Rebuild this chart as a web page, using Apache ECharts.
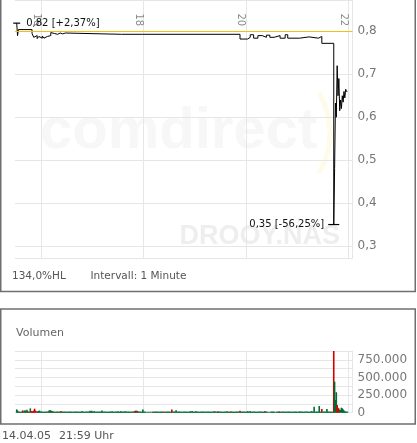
<!DOCTYPE html>
<html lang="de">
<head>
<meta charset="UTF-8">
<title>DROOY.NAS Intraday</title>
<style>
    html, body { margin: 0; width: 100%; height: 100%; overflow: hidden; background: #fff; }
    #main { width: 417px; height: 443px; }
</style>
</head>
<body>
<div id="main"></div>
<script src="https://cdn.jsdelivr.net/npm/echarts@6/dist/echarts.min.js"></script>
<script>
    // Achse: ein Eintrag pro Minute, 15:29 bis 22:05
    var firstMinute = 929, lastMinute = 1325;
    var hourLabels = ['16', '18', '20', '22'];

    // Kurs (nur Änderungspunkte, Stufenlinie)
    var priceTimes = ['15:31', '15:32', '15:33', '15:49', '15:51', '15:53', '15:55', '15:57', '15:59',
        '16:01', '16:03', '16:05', '16:07', '16:09', '16:11', '16:13', '16:15', '16:17', '16:19', '16:22',
        '16:25', '16:28', '17:34', '17:36', '17:59', '18:01', '18:05', '18:07', '19:53', '20:02', '20:05',
        '20:09', '20:14', '20:19', '20:24', '20:28', '20:33', '20:40', '20:46', '20:49', '21:03', '21:14',
        '21:25', '21:29', '21:43', '21:44', '21:45', '21:46', '21:47', '21:48', '21:49', '21:50', '21:51',
        '21:52', '21:53', '21:54', '21:55', '21:56', '21:57', '21:58', '21:59'];
    var priceValues = [0.819, 0.790, 0.804, 0.795, 0.786, 0.790, 0.783, 0.788, 0.784,
        0.789, 0.784, 0.788, 0.785, 0.790, 0.797, 0.795, 0.797, 0.793, 0.796, 0.794,
        0.796, 0.793, 0.797, 0.793, 0.796, 0.793, 0.797, 0.793, 0.782, 0.786, 0.792,
        0.784, 0.790, 0.786, 0.791, 0.786, 0.790, 0.784, 0.792, 0.784, 0.787, 0.784,
        0.788, 0.772, 0.350, 0.480, 0.633, 0.600, 0.720, 0.650, 0.690, 0.615, 0.640,
        0.620, 0.650, 0.635, 0.660, 0.645, 0.665, 0.660, 0.660];
    var prevClose = 0.80;
    var highText = '0,82 [+2,37%]';
    var lowText = '0,35 [-56,25%]';

    // Volumen in Tausend Stück, ein Wert pro Minute ab 15:29
    var volumes = [
        0, 0, 47, 30, 15, 15, 15, 15, 15, 33,
        15, 28, 33, 15, 42, 20, 15, 15, 61, 20,
        20, 20, 30, 57, 28, 15, 20, 15, 28, 28,
        15, 15, 15, 15, 15, 15, 15, 15, 15, 15,
        30, 35, 30, 25, 20, 15, 15, 15, 15, 15,
        15, 15, 15, 15, 25, 15, 15, 15, 15, 15,
        15, 15, 15, 15, 15, 15, 15, 15, 15, 15,
        15, 15, 15, 15, 15, 15, 15, 15, 15, 22,
        15, 15, 15, 15, 15, 15, 15, 15, 28, 15,
        28, 15, 15, 22, 15, 15, 15, 15, 15, 15,
        15, 15, 30, 15, 15, 15, 15, 15, 15, 15,
        15, 15, 15, 15, 22, 15, 15, 15, 15, 15,
        15, 22, 15, 15, 22, 15, 15, 15, 15, 22,
        15, 15, 15, 15, 15, 15, 15, 15, 15, 15,
        20, 28, 28, 28, 20, 15, 15, 15, 15, 15,
        45, 15, 15, 15, 0, 15, 0, 15, 0, 15,
        0, 15, 15, 15, 15, 15, 15, 15, 15, 15,
        15, 15, 15, 15, 15, 15, 15, 15, 15, 15,
        15, 15, 15, 15, 45, 15, 15, 15, 15, 33,
        15, 15, 15, 15, 15, 15, 15, 15, 15, 15,
        15, 15, 15, 15, 15, 15, 22, 15, 22, 15,
        15, 15, 22, 15, 15, 15, 15, 15, 15, 15,
        15, 15, 15, 15, 15, 15, 15, 15, 15, 15,
        15, 15, 15, 15, 22, 15, 15, 15, 20, 15,
        15, 15, 15, 15, 15, 15, 15, 15, 15, 20,
        15, 15, 15, 18, 15, 15, 15, 15, 15, 15,
        15, 15, 15, 15, 28, 15, 15, 15, 15, 15,
        15, 15, 15, 22, 15, 15, 22, 15, 15, 15,
        15, 15, 15, 15, 15, 15, 15, 15, 15, 15,
        15, 15, 15, 22, 15, 15, 15, 0, 15, 0,
        15, 15, 15, 15, 15, 15, 0, 15, 15, 15,
        18, 15, 15, 15, 15, 15, 15, 15, 15, 15,
        15, 15, 15, 15, 15, 15, 15, 15, 15, 15,
        15, 15, 15, 15, 18, 15, 15, 15, 15, 15,
        15, 15, 15, 15, 15, 15, 15, 15, 22, 15,
        15, 85, 15, 15, 15, 15, 15, 95, 15, 15,
        52, 15, 15, 15, 15, 15, 52, 15, 15, 15,
        15, 15, 15, 15, 880, 440, 180, 290, 109, 71,
        61, 38, 38, 71, 61, 47, 30, 20, 15, 15,
        15, 0, 0, 0, 0, 0, 0
    ];
    // Minuten (Index) mit fallendem Kurs -> rote Balken
    var redIndex = [9, 15, 19, 20, 21, 22, 23, 24, 26, 44, 54, 140, 142, 144, 163, 175, 184,
        238, 253, 264, 293, 310, 360, 374, 378, 379, 380];

    function pad(n) { return (n < 10 ? '0' : '') + n; }
    var minutes = [];
    for (var m = firstMinute; m <= lastMinute; m++) {
        minutes.push(pad(Math.floor(m / 60)) + ':' + pad(m % 60));
    }
    function isFullHour(index, value) {
        return value.slice(3) === '00' && hourLabels.indexOf(value.slice(0, 2)) >= 0;
    }

    var font = 'DejaVu Sans';
    var gridColor = '#e6e6e6';
    var green = '#006b33', red = '#d40000';

    var myChart = echarts.init(document.getElementById('main'), null, {renderer: 'canvas'});
    var option = {
        animation: false,
        grid: [
            {left: 15, right: 64.5, top: 0, height: 258.3},
            {left: 15, right: 64.5, top: 351, height: 61.7}
        ],
        xAxis: [{
            type: 'category',
            gridIndex: 0,
            data: minutes,
            boundaryGap: false,
            position: 'top',
            axisLine: {show: false},
            axisTick: {show: false},
            axisLabel: {
                inside: true,
                rotate: 90,
                interval: isFullHour,
                margin: 13.5,
                verticalAlign: 'top',
                color: '#8a8a8a',
                fontSize: 10,
                fontFamily: font,
                formatter: function (v) { return v.slice(0, 2); }
            },
            splitLine: {show: true, interval: isFullHour, lineStyle: {color: gridColor, width: 1}}
        }, {
            type: 'category',
            gridIndex: 1,
            data: minutes,
            boundaryGap: false,
            axisLine: {show: false},
            axisTick: {show: false},
            axisLabel: {show: false},
            splitLine: {show: true, interval: isFullHour, lineStyle: {color: gridColor, width: 1}}
        }],
        yAxis: [{
            type: 'value',
            gridIndex: 0,
            position: 'right',
            min: 0.2714,
            max: 0.8729,
            splitNumber: 5,
            axisLine: {show: true, lineStyle: {color: gridColor}},
            axisTick: {show: false},
            axisLabel: {
                margin: 5,
                color: '#777',
                fontSize: 12,
                fontFamily: font,
                showMinLabel: false,
                showMaxLabel: false,
                formatter: function (v) { return v.toFixed(1).replace('.', ','); }
            },
            splitLine: {lineStyle: {color: gridColor, width: 1}}
        }, {
            type: 'value',
            gridIndex: 1,
            position: 'right',
            min: 0,
            max: 875,
            interval: 125,
            axisLine: {show: true, lineStyle: {color: gridColor}},
            axisTick: {show: false},
            axisLabel: {
                margin: 5,
                color: '#777',
                fontSize: 12,
                fontFamily: font,
                formatter: function (v) {
                    if (v % 250 !== 0) return '';
                    return v === 0 ? '0' : v + '.000';
                }
            },
            splitLine: {lineStyle: {color: gridColor, width: 1}}
        }],
        series: [{
            name: 'Kurs',
            type: 'line',
            xAxisIndex: 0,
            yAxisIndex: 0,
            step: 'end',
            showSymbol: false,
            lineStyle: {color: '#000', width: 1},
            data: priceTimes.map(function (t, k) { return [t, priceValues[k]]; }),
            markLine: {
                silent: true,
                symbol: 'none',
                label: {show: false},
                lineStyle: {color: '#f3bd1c', type: 'solid', width: 1},
                data: [{yAxis: prevClose}]
            },
            markPoint: {
                silent: true,
                symbol: 'rect',
                itemStyle: {color: '#000'},
                data: [{
                    type: 'max',
                    symbolSize: [7, 1.2],
                    label: {show: true, position: 'right', distance: 6, color: '#111',
                        fontSize: 10, fontFamily: font, formatter: highText}
                }, {
                    type: 'min',
                    symbolSize: [11, 1.2],
                    label: {show: true, position: 'left', distance: 4, color: '#111',
                        fontSize: 10, fontFamily: font, formatter: lowText}
                }]
            }
        }, {
            name: 'Volumen',
            type: 'bar',
            xAxisIndex: 1,
            yAxisIndex: 1,
            barWidth: 1.6,
            data: volumes,
            itemStyle: {
                color: function (p) { return redIndex.indexOf(p.dataIndex) >= 0 ? red : green; }
            }
        }],
        graphic: [
            // Wasserzeichen
            {type: 'text', z: -10, silent: true,
                style: {x: 40, y: 132, text: 'comdirect', fill: '#f7f7f7',
                    font: 'bold 58px "Liberation Sans"', verticalAlign: 'middle'}},
            {type: 'arc', z: -10, silent: true,
                shape: {cx: 252, cy: 133, r: 78, startAngle: -0.54, endAngle: 0.54},
                style: {stroke: '#fffbea', lineWidth: 5, fill: null}},
            {type: 'text', z: -10, silent: true,
                style: {x: 340, y: 237, text: 'DROOY.NAS', fill: '#eeeeee', align: 'right',
                    font: 'bold 27px "Liberation Sans"', verticalAlign: 'middle'}},
            // Rahmen
            {type: 'rect', silent: true, shape: {x: 0.75, y: -2, width: 414.5, height: 293.5},
                style: {fill: null, stroke: '#6f6f6f', lineWidth: 1.5}},
            {type: 'rect', silent: true, shape: {x: 0.75, y: 309, width: 414.5, height: 115},
                style: {fill: null, stroke: '#6f6f6f', lineWidth: 1.5}},
            // Beschriftungen
            {type: 'text', style: {x: 12, y: 276, text: '134,0%HL', fill: '#555',
                font: '10.5px "DejaVu Sans"', verticalAlign: 'middle'}},
            {type: 'text', style: {x: 90.5, y: 276, text: 'Intervall: 1 Minute', fill: '#555',
                font: '10.5px "DejaVu Sans"', verticalAlign: 'middle'}},
            {type: 'text', style: {x: 16, y: 333, text: 'Volumen', fill: '#666',
                font: '11px "DejaVu Sans"', verticalAlign: 'middle'}},
            {type: 'text', style: {x: 2, y: 436, text: '14.04.05', fill: '#555',
                font: '11px "DejaVu Sans"', verticalAlign: 'middle'}},
            {type: 'text', style: {x: 59, y: 436, text: '21:59 Uhr', fill: '#555',
                font: '11px "DejaVu Sans"', verticalAlign: 'middle'}}
        ]
    };
    myChart.setOption(option);
</script>
</body>
</html>
